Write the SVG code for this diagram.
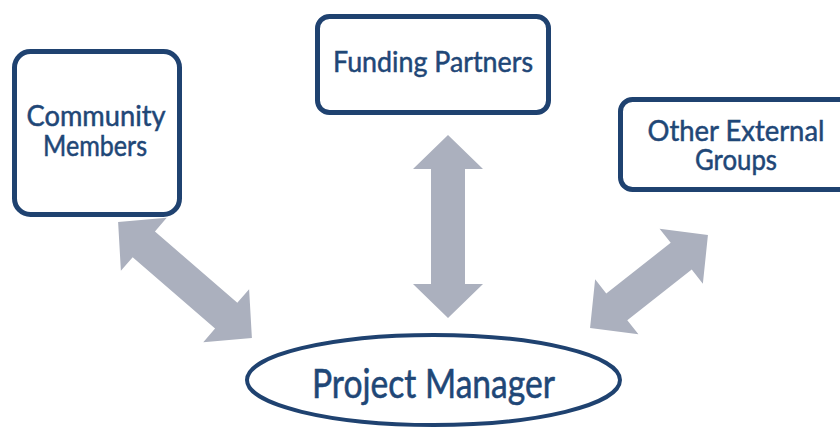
<svg xmlns="http://www.w3.org/2000/svg" width="840" height="428" viewBox="0 0 840 428">
  <style>
    .box { fill: #ffffff; stroke: #1f4270; stroke-width: 5; }
    .oval { fill: #ffffff; stroke: #1f4270; stroke-width: 4; }
    .lbl { font-family: Lato, "Open Sans", sans-serif; font-size: 28px; fill: #1f4777; stroke: #1f4777; stroke-width: 0.5; text-anchor: middle; }
    .big { font-size: 41px; stroke-width: 0.6; }
    .arrow { fill: #abb0be; }
  </style>
  <rect width="840" height="428" fill="#ffffff"/>

  <!-- double-headed connectors, each drawn along x and rotated into place -->
  <g id="connectors">
    <path class="arrow" transform="translate(185 280) rotate(40.9)"
          d="M-88.5 0 L-54.5 -35 L-54.5 -17 L54.5 -17 L54.5 -35 L88.5 0 L54.5 35 L54.5 17 L-54.5 17 L-54.5 35 Z"/>
    <path class="arrow" transform="translate(448 226.5) rotate(90)"
          d="M-91.5 0 L-57.5 -35 L-57.5 -17 L57.5 -17 L57.5 -35 L91.5 0 L57.5 35 L57.5 17 L-57.5 17 L-57.5 35 Z"/>
    <path class="arrow" transform="translate(649 281.5) rotate(-38.2)"
          d="M-75 0 L-41 -35 L-41 -17 L41 -17 L41 -35 L75 0 L41 35 L41 17 L-41 17 L-41 35 Z"/>
  </g>

  <g id="community-members">
    <rect class="box" x="14.5" y="51.5" width="165" height="163" rx="16"/>
    <text class="lbl" x="96" y="126" textLength="139" lengthAdjust="spacingAndGlyphs">Community</text>
    <text class="lbl" x="95" y="156" textLength="104" lengthAdjust="spacingAndGlyphs">Members</text>
  </g>

  <g id="funding-partners">
    <rect class="box" x="317.5" y="16.5" width="231" height="96" rx="12"/>
    <text class="lbl" x="433" y="72" textLength="200" lengthAdjust="spacingAndGlyphs">Funding Partners</text>
  </g>

  <g id="other-external-groups">
    <rect class="box" x="620.5" y="99.5" width="240" height="90" rx="12"/>
    <text class="lbl" x="736" y="141" textLength="177" lengthAdjust="spacingAndGlyphs">Other External</text>
    <text class="lbl" x="736" y="170" textLength="82" lengthAdjust="spacingAndGlyphs">Groups</text>
  </g>

  <g id="project-manager">
    <ellipse class="oval" cx="433.5" cy="380" rx="186.5" ry="45"/>
    <text class="lbl big" x="433.5" y="398" textLength="243" lengthAdjust="spacingAndGlyphs">Project Manager</text>
  </g>
</svg>
